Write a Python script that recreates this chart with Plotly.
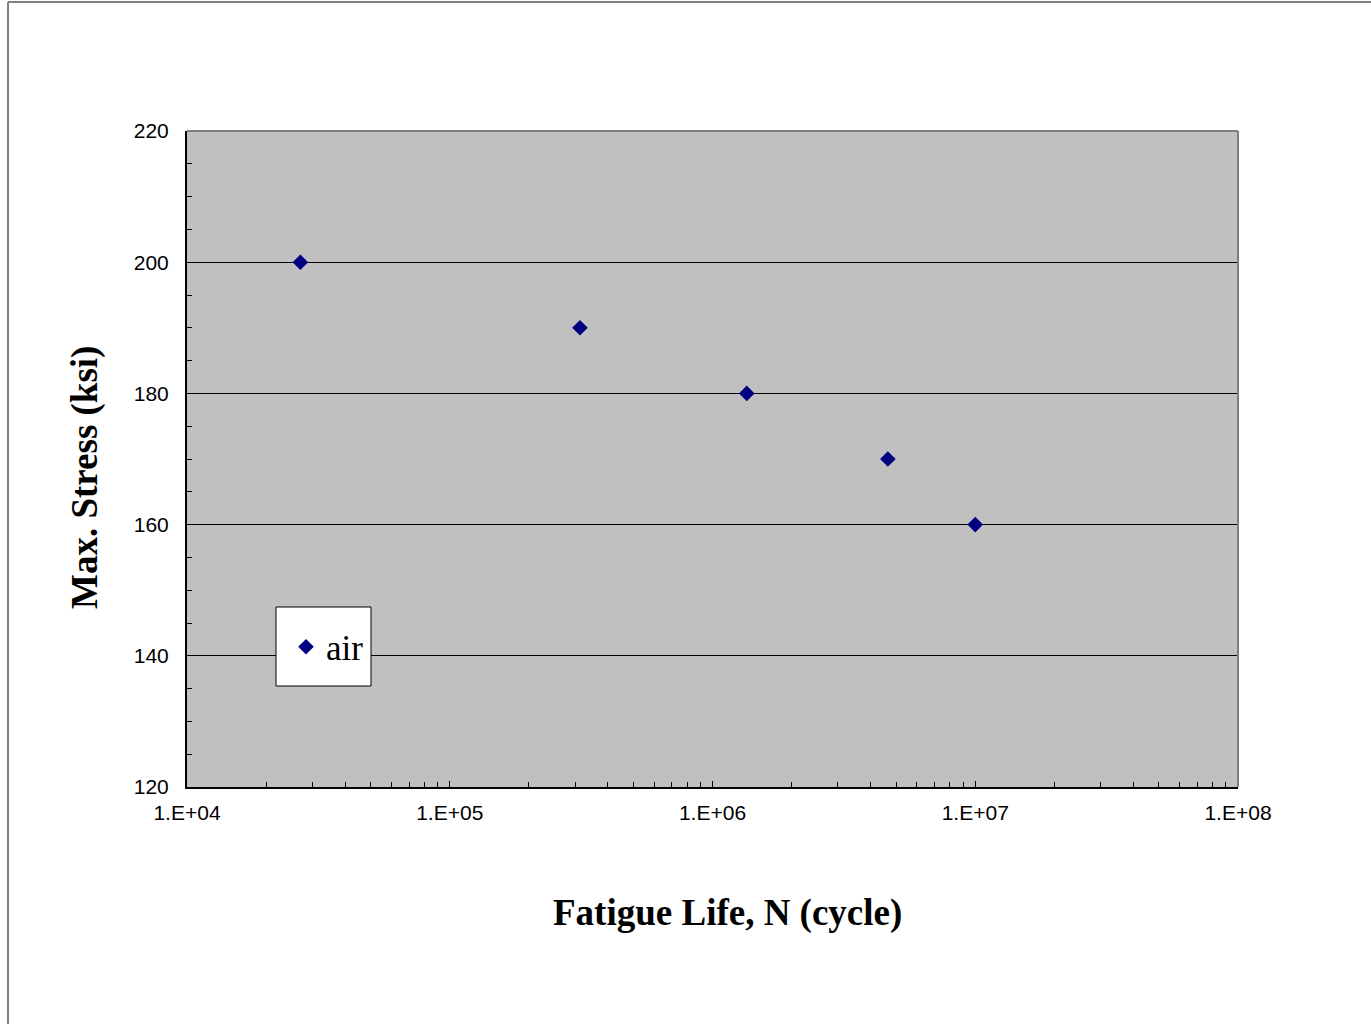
import plotly.graph_objects as go

# Data
cycles = [27000, 313000, 1350000, 4650000, 10000000]
stress = [200, 190, 180, 170, 160]
series_name = "air"
x_tickvals = [1e4, 1e5, 1e6, 1e7, 1e8]
x_ticktext = ["1.E+04", "1.E+05", "1.E+06", "1.E+07", "1.E+08"]
y_tickvals = [120, 140, 160, 180, 200, 220]

W, H = 1371, 1024
# reference pixel geometry of the plot area
L, R, T, B = 187, 1238, 131, 787
pw, ph = R - L, B - T


def px(xp):
    return (xp - L) / pw


def py(yp):
    return (B - yp) / ph


fig = go.Figure()
fig.add_trace(go.Scatter(
    x=cycles, y=stress, mode="markers", name=series_name,
    marker=dict(symbol="diamond", size=12, color="#000080", line=dict(width=0)),
))

fig.update_layout(
    width=W, height=H,
    margin=dict(l=L, r=W - R, t=T, b=H - B, pad=0),
    paper_bgcolor="white", plot_bgcolor="#C0C0C0",
    showlegend=True,
    legend=dict(
        x=px(286), y=py(647), xanchor="left", yanchor="middle",
        bgcolor="rgba(0,0,0,0)", borderwidth=0,
        font=dict(family="Liberation Serif, Times New Roman, serif", size=35, color="black"),
        itemwidth=30,
    ),
    xaxis=dict(
        type="log", range=[4, 8],
        tickvals=x_tickvals, ticktext=x_ticktext,
        ticks="inside", ticklen=6, tickcolor="black", tickwidth=1,
        minor=dict(ticks="inside", ticklen=5, tickcolor="black", dtick="D1", showgrid=False),
        showline=True, linecolor="black", linewidth=2,
        showgrid=False, zeroline=False,
        tickfont=dict(family="Liberation Sans, Arial, sans-serif", size=21, color="black"),
        ticklabelstandoff=6,
    ),
    yaxis=dict(
        range=[120, 220],
        tickvals=y_tickvals,
        ticks="inside", ticklen=6, tickcolor="black", tickwidth=1,
        minor=dict(ticks="inside", ticklen=5, tickcolor="black", dtick=5, showgrid=False),
        showline=True, linecolor="black", linewidth=2,
        showgrid=True, gridcolor="black", gridwidth=1,
        zeroline=False,
        tickfont=dict(family="Liberation Sans, Arial, sans-serif", size=21, color="black"),
        ticklabelstandoff=12,
    ),
)

# Top and right border of plot area (gray)
fig.add_shape(type="line", xref="x domain", yref="y domain", x0=0, x1=1, y0=1, y1=1,
              line=dict(color="#808080", width=2), layer="above")
fig.add_shape(type="line", xref="x domain", yref="y domain", x0=1, x1=1, y0=0, y1=1,
              line=dict(color="#808080", width=2), layer="above")

# Legend box
fig.add_shape(type="rect", xref="paper", yref="paper",
              x0=px(276), x1=px(371), y0=py(686), y1=py(607),
              fillcolor="white", line=dict(color="black", width=1), layer="above")

# Outer page border (left & top)
bx = px(8)
by = py(2)
fig.add_shape(type="line", xref="paper", yref="paper", x0=bx, x1=bx, y0=by, y1=-1,
              line=dict(color="#808080", width=2))
fig.add_shape(type="line", xref="paper", yref="paper", x0=bx, x1=2, y0=by, y1=by,
              line=dict(color="#808080", width=2))

# Axis titles
fig.add_annotation(text="<b>Fatigue Life, N (cycle)</b>", xref="paper", yref="paper",
                   x=px(727), y=py(913), xanchor="center", yanchor="middle",
                   showarrow=False,
                   font=dict(family="Liberation Serif, Times New Roman, serif", size=37, color="black"))
fig.add_annotation(text="<b>Max. Stress (ksi)</b>", xref="paper", yref="paper",
                   x=px(85), y=py(478), xanchor="center", yanchor="middle",
                   textangle=-90, showarrow=False,
                   font=dict(family="Liberation Serif, Times New Roman, serif", size=37, color="black"))

fig.write_html("out.html",
               config={"displayModeBar": False},
               post_script="document.body.style.margin='0';document.body.style.overflow='hidden';")
